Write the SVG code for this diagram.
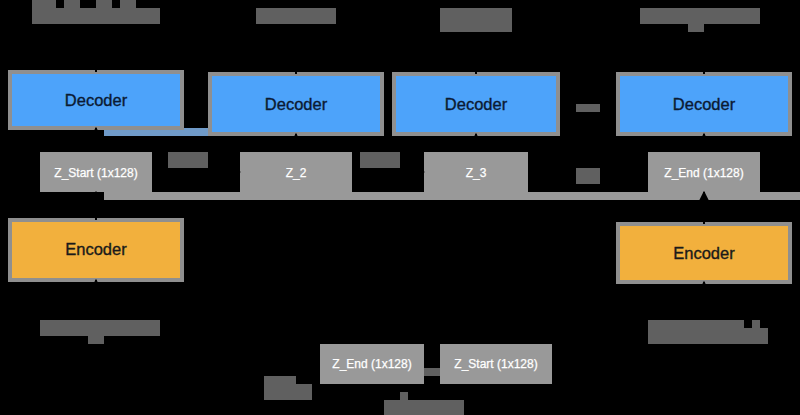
<svg xmlns="http://www.w3.org/2000/svg" width="800" height="415" viewBox="0 0 800 415">
<defs>
<style>
.dec{fill:#4da3fa;stroke:#8f8f8f;stroke-width:4}
.enc{fill:#f2b03d;stroke:#8f8f8f;stroke-width:4}
.z{fill:#999999}
.lbl{fill:#606060}
.t{font-family:"Liberation Sans",Arial,sans-serif;text-anchor:middle;dominant-baseline:central}
.td{font-size:16.5px;fill:#0b1a33;stroke:#0b1a33;stroke-width:0.35}
.tz{font-size:12px;fill:#ffffff;stroke:#ffffff;stroke-width:0.25}
.ln{stroke:#000;stroke-width:2;fill:none}
</style>
<marker id="ah" viewBox="0 0 10 10" refX="9" refY="5" markerWidth="6" markerHeight="6" orient="auto"><path d="M0,0L10,5L0,10z" fill="#000"/></marker>
</defs>
<rect x="0" y="0" width="800" height="415" fill="#000"/>
<rect x="104" y="128" width="104" height="8" fill="#6f9ac8"/>
<rect x="104" y="192" width="696" height="8" fill="#999999"/>
<g id="dec1"><rect class="dec" x="10" y="72" width="172" height="56"/><text class="t td" x="96" y="100">Decoder</text></g>
<g id="dec2"><rect class="dec" x="210" y="74" width="172" height="60"/><text class="t td" x="296" y="104">Decoder</text></g>
<g id="dec3"><rect class="dec" x="394" y="74" width="164" height="60"/><text class="t td" x="476" y="104">Decoder</text></g>
<g id="dec4"><rect class="dec" x="618" y="74" width="172" height="60"/><text class="t td" x="704" y="104">Decoder</text></g>
<g id="zstart"><rect class="z" x="40" y="152" width="112" height="40"/><text class="t tz" x="96" y="173">Z_Start (1x128)</text></g>
<g id="z2"><rect class="z" x="240" y="152" width="112" height="40"/><text class="t tz" x="296" y="173">Z_2</text></g>
<g id="z3"><rect class="z" x="424" y="152" width="104" height="40"/><text class="t tz" x="476" y="173">Z_3</text></g>
<g id="zend"><rect class="z" x="648" y="152" width="112" height="40"/><text class="t tz" x="704" y="173">Z_End (1x128)</text></g>
<g id="enc1"><rect class="enc" x="10" y="220" width="172" height="60"/><text class="t td" x="96" y="249" style="fill:#1a1a1a;stroke:#1a1a1a">Encoder</text></g>
<g id="enc2"><rect class="enc" x="618" y="224" width="172" height="58"/><text class="t td" x="704" y="253" style="fill:#1a1a1a;stroke:#1a1a1a">Encoder</text></g>
<g id="zend2"><rect class="z" x="320" y="344" width="104" height="40"/><text class="t tz" x="372" y="364">Z_End (1x128)</text></g>
<g id="zstart2"><rect class="z" x="440" y="344" width="112" height="40"/><text class="t tz" x="496" y="364">Z_Start (1x128)</text></g>
<g id="labels">
<rect class="lbl" x="32" y="8" width="128" height="16"/>
<rect class="lbl" x="32" y="0" width="24" height="8"/>
<rect class="lbl" x="64" y="0" width="16" height="8"/>
<rect class="lbl" x="96" y="0" width="16" height="8"/>
<rect class="lbl" x="120" y="0" width="16" height="8"/>
<rect class="lbl" x="256" y="8" width="80" height="16"/>
<rect class="lbl" x="440" y="8" width="72" height="24"/>
<rect class="lbl" x="640" y="8" width="120" height="16"/>
<rect class="lbl" x="688" y="24" width="16" height="8"/>
<rect class="lbl" x="168" y="152" width="40" height="16"/>
<rect class="lbl" x="360" y="152" width="40" height="16"/>
<rect class="lbl" x="576" y="168" width="24" height="16"/>
<rect class="lbl" x="576" y="104" width="24" height="8" fill="#707070"/>
<rect class="lbl" x="40" y="320" width="120" height="16"/>
<rect class="lbl" x="88" y="336" width="16" height="8"/>
<rect class="lbl" x="648" y="320" width="96" height="24"/>
<rect class="lbl" x="744" y="328" width="24" height="16"/>
<rect class="lbl" x="752" y="320" width="8" height="8"/>
<rect class="lbl" x="424" y="368" width="16" height="8"/>
<rect class="lbl" x="264" y="376" width="32" height="8"/>
<rect class="lbl" x="264" y="384" width="48" height="16"/>
<rect class="lbl" x="400" y="392" width="8" height="8"/>
<rect class="lbl" x="384" y="400" width="80" height="15"/>
</g>
<g id="connectors">
<line class="ln" x1="152" y1="172" x2="240" y2="172" marker-end="url(#ah)"/>
<line class="ln" x1="352" y1="172" x2="424" y2="172" marker-end="url(#ah)"/>
<line class="ln" x1="96" y1="152" x2="96" y2="128" marker-end="url(#ah)"/>
<line class="ln" x1="296" y1="152" x2="296" y2="134" marker-end="url(#ah)"/>
<line class="ln" x1="476" y1="152" x2="476" y2="134" marker-end="url(#ah)"/>
<line class="ln" x1="704" y1="152" x2="704" y2="134" marker-end="url(#ah)"/>
<line class="ln" x1="296" y1="74" x2="296" y2="28" marker-end="url(#ah)"/>
<line class="ln" x1="476" y1="74" x2="476" y2="34" marker-end="url(#ah)"/>
<line class="ln" x1="704" y1="74" x2="704" y2="34" marker-end="url(#ah)"/>
<line class="ln" x1="96" y1="72" x2="96" y2="28" marker-end="url(#ah)"/>
<line class="ln" x1="96" y1="220" x2="96" y2="192" marker-end="url(#ah)"/>
<line class="ln" x1="96" y1="318" x2="96" y2="280" marker-end="url(#ah)"/>
<line class="ln" x1="704" y1="224" x2="704" y2="192" marker-end="url(#ah)"/>
<line class="ln" x1="704" y1="318" x2="704" y2="282" marker-end="url(#ah)"/>
</g>
</svg>
